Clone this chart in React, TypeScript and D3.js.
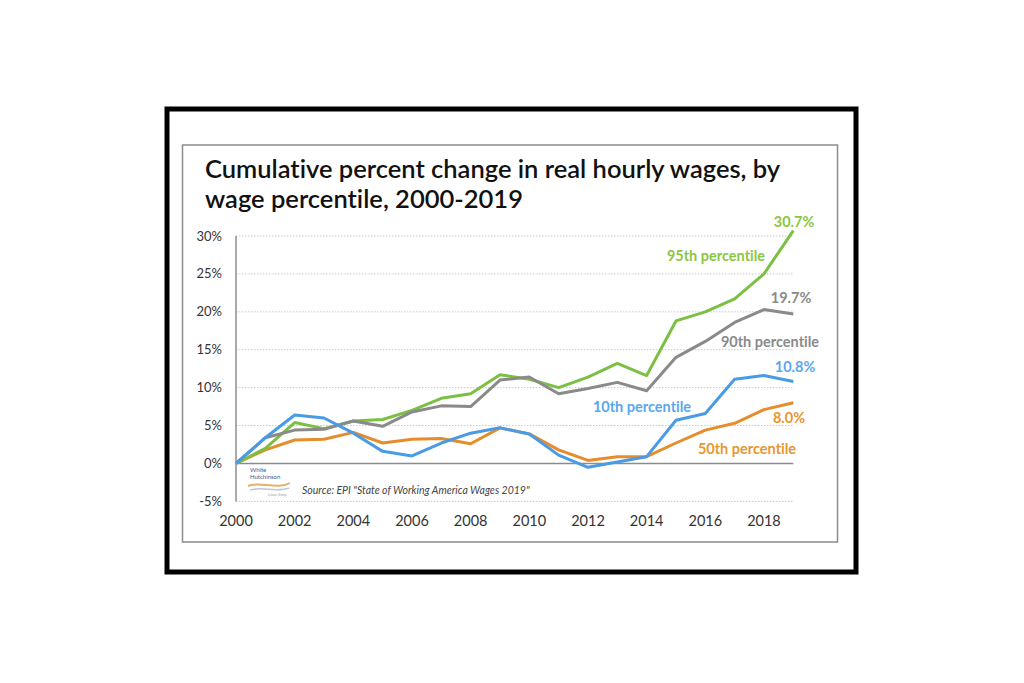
import React from "react";
import * as d3 from "d3";

const years = d3.range(2000, 2020);
const p95 = [0, 2.0, 5.4, 4.6, 5.6, 5.8, 7.0, 8.6, 9.2, 11.7, 11.1, 10.0, 11.4, 13.2, 11.6, 18.8, 20.0, 21.7, 25.0, 30.7];
const p90 = [0, 3.4, 4.4, 4.5, 5.6, 4.9, 6.8, 7.6, 7.5, 11.0, 11.4, 9.2, 9.9, 10.7, 9.6, 14.0, 16.1, 18.6, 20.3, 19.7];
const p10 = [0, 3.4, 6.4, 6.0, 4.0, 1.6, 1.0, 2.7, 4.0, 4.7, 3.9, 1.1, -0.5, 0.2, 0.9, 5.7, 6.6, 11.1, 11.6, 10.8];
const p50 = [0, 1.8, 3.1, 3.2, 4.1, 2.7, 3.2, 3.3, 2.6, 4.7, 3.9, 1.8, 0.4, 0.9, 0.9, 2.7, 4.4, 5.3, 7.1, 8.0];
const yTicks = [-5, 0, 5, 10, 15, 20, 25, 30];
const xTicks = [2000, 2002, 2004, 2006, 2008, 2010, 2012, 2014, 2016, 2018];

const series = [
  { name: "95th percentile", values: p95, color: "#7cc043", text: "#8cc63f", end: "30.7%" },
  { name: "90th percentile", values: p90, color: "#8a8a8a", text: "#8a8a8a", end: "19.7%" },
  { name: "10th percentile", values: p10, color: "#4a9be6", text: "#5aa7ee", end: "10.8%" },
  { name: "50th percentile", values: p50, color: "#e58d2a", text: "#e8962e", end: "8.0%" },
];

export default function App() {
  const x = d3.scaleLinear().domain([2000, 2019]).range([236, 793.3]);
  const y = d3.scaleLinear().domain([-5, 30]).range([501.4, 236]);
  const line = d3
    .line<number>()
    .x((_, i) => x(years[i]))
    .y((d) => y(d));
  const font = "Lato, 'Open Sans', sans-serif";
  const noLig = { fontVariantLigatures: "none" } as React.CSSProperties;

  const labels = [
    { t: series[0].end, c: series[0].text, x: 794, y: 31.8 },
    { t: series[0].name, c: series[0].text, x: 716, y: 27.4 },
    { t: series[1].end, c: series[1].text, x: 791, y: 21.8 },
    { t: series[1].name, c: series[1].text, x: 770, y: 16.0 },
    { t: series[2].end, c: series[2].text, x: 795, y: 12.7 },
    { t: series[2].name, c: series[2].text, x: 642, y: 7.45 },
    { t: series[3].end, c: series[3].text, x: 789, y: 6.0 },
    { t: series[3].name, c: series[3].text, x: 747, y: 1.9 },
  ];

  return (
    <svg width={1024} height={683} style={{ position: "absolute", left: 0, top: 0, background: "#fff" }}>
      <rect x={0} y={0} width={1024} height={683} fill="#fff" />
      <rect x={167} y={109} width={689} height={463} fill="#fff" stroke="#000" strokeWidth={5} />
      <rect x={182.5} y={145} width={655} height={397} fill="#fff" stroke="#8c8c8c" strokeWidth={1.5} />

      <text x={205} y={178} fontFamily={font} fontWeight={600} fontSize={25.5} fill="#111" style={noLig}>
        Cumulative percent change in real hourly wages, by
      </text>
      <text x={205} y={208} fontFamily={font} fontWeight={600} fontSize={25.5} fill="#111" style={noLig}>
        wage percentile, 2000-2019
      </text>

      {yTicks.map((t) =>
        t === 0 ? null : (
          <line key={"g" + t} x1={x(2000)} x2={x(2019)} y1={y(t)} y2={y(t)} stroke="#c8c8c8" strokeWidth={1} strokeDasharray="1.5,1.5" />
        )
      )}
      <line x1={x(2000)} x2={x(2000)} y1={y(30)} y2={y(-5)} stroke="#8c8c8c" strokeWidth={1.5} />
      <line x1={x(2000)} x2={x(2019)} y1={y(0)} y2={y(0)} stroke="#8c8c8c" strokeWidth={1.5} />

      {yTicks.map((t) => (
        <text key={"y" + t} x={222} y={y(t)} dy="0.35em" textAnchor="end" fontFamily={font} fontSize={13} fill="#333">
          {t + "%"}
        </text>
      ))}
      {xTicks.map((t) => (
        <text key={"x" + t} x={x(t)} y={526} textAnchor="middle" fontFamily={font} fontSize={14.5} fill="#333">
          {t}
        </text>
      ))}

      {[series[3], series[0], series[1], series[2]].map((s) => (
        <path key={s.name} d={line(s.values) || ""} fill="none" stroke={s.color} strokeWidth={3} strokeLinejoin="round" />
      ))}

      {labels.map((l, i) => (
        <text key={"l" + i} x={l.x} y={y(l.y)} dy="0.35em" textAnchor="middle" fontFamily={font} fontWeight={700} fontSize={14.5} fill={l.c} style={noLig}>
          {l.t}
        </text>
      ))}

      <g>
        <text x={250} y={472} fontFamily={font} fontSize={6} fill="#3b5a9a">White</text>
        <text x={250} y={479} fontFamily={font} fontSize={6} fill="#3b5a9a">Hutchinson</text>
        <path d="M248,486 C258,481 278,490 290,483" fill="none" stroke="#e8b06a" strokeWidth={2} />
        <path d="M250,490 C262,486 276,493 289,488" fill="none" stroke="#b9c6e0" strokeWidth={1.5} />
        <text x={268} y={496} fontFamily={font} fontSize={3} fill="#999">Leisure Group</text>
      </g>
      <text x={302} y={494} fontFamily={font} fontStyle="italic" fontSize={10.5} fill="#444">
        Source: EPI "State of Working America Wages 2019"
      </text>
    </svg>
  );
}
